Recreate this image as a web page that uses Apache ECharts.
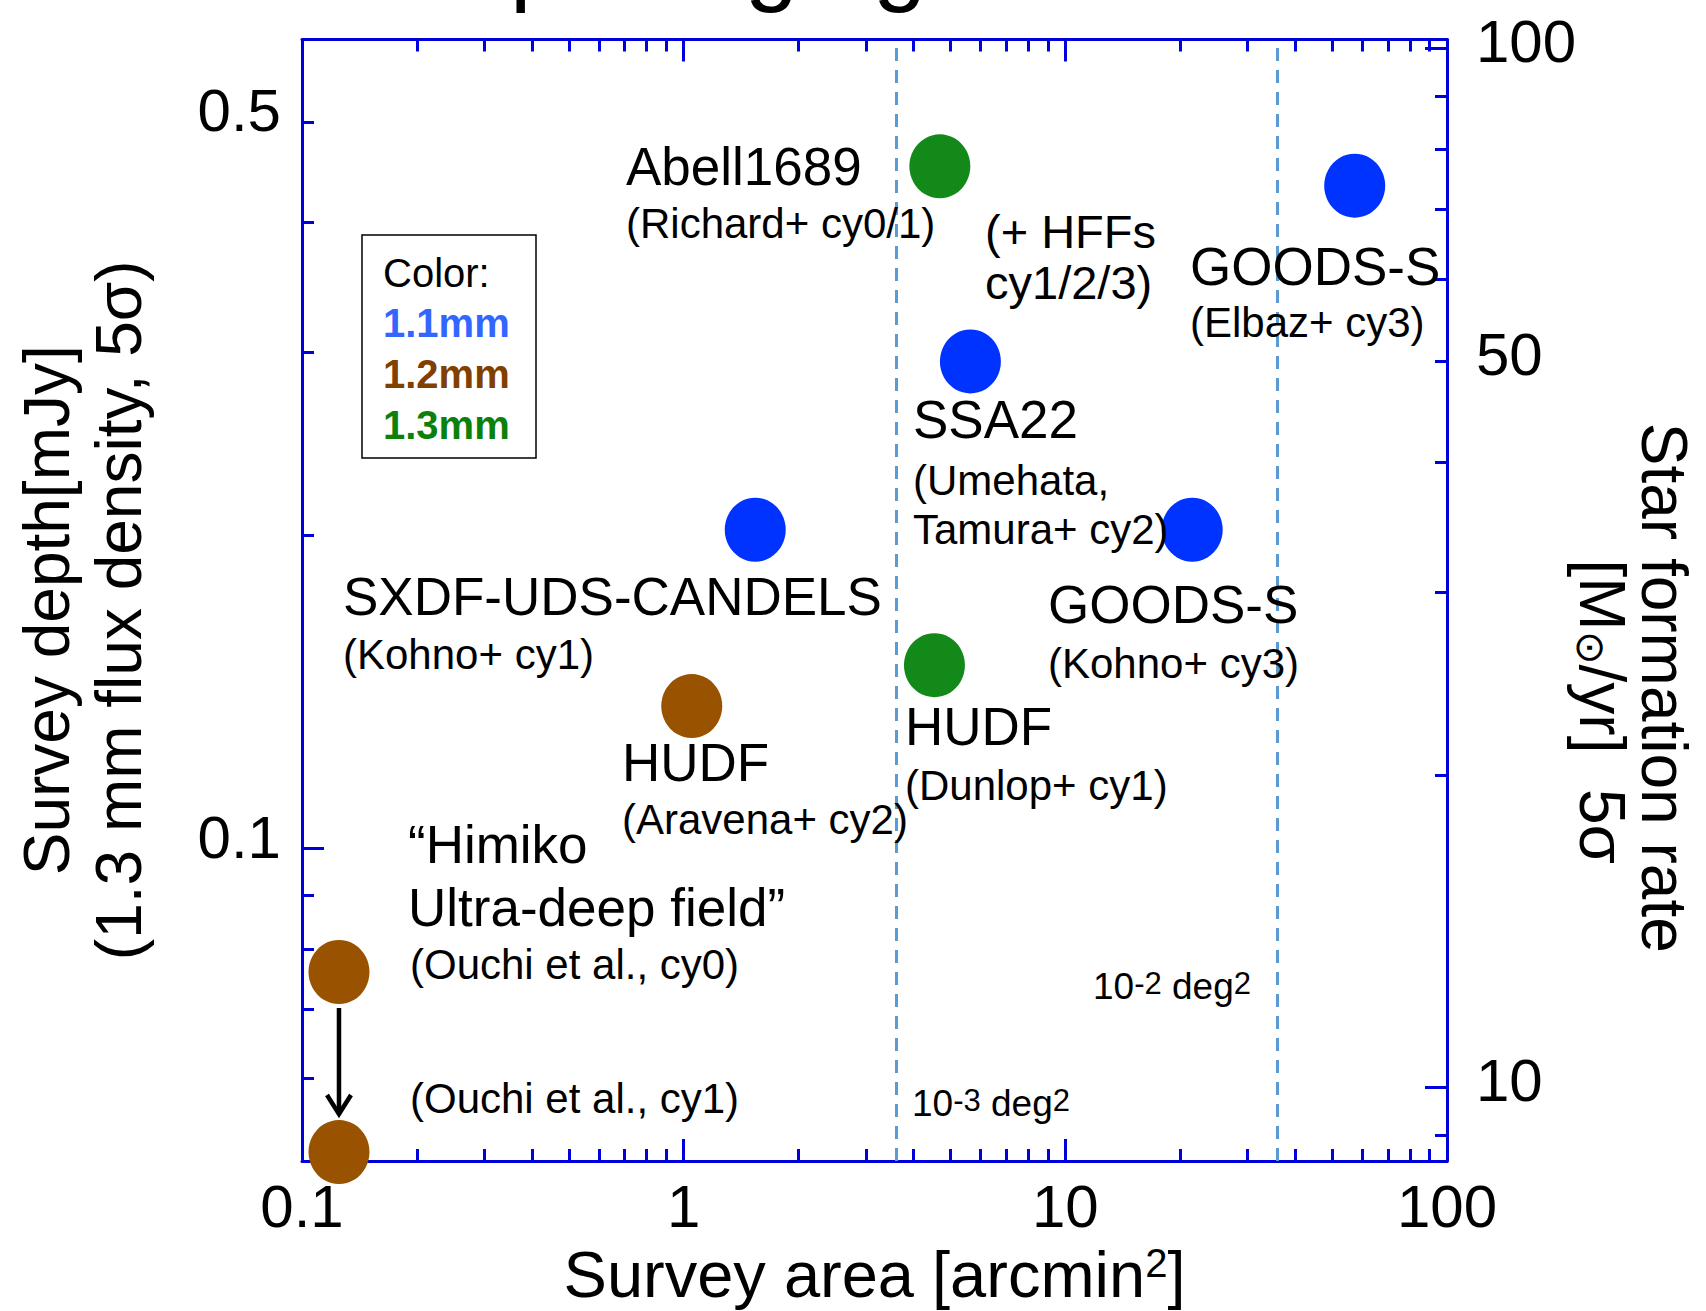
<!DOCTYPE html>
<html>
<head>
<meta charset="utf-8">
<script src="https://cdn.jsdelivr.net/npm/echarts@6/dist/echarts.min.js"></script>
<style>
  html, body { margin: 0; padding: 0; background: #ffffff; }
  #chart { width: 1706px; height: 1311px; }
</style>
</head>
<body>
<div id="chart"></div>
<script>
// ---- Survey data ----
const fieldNames  = ['Abell1689', 'GOODS-S (Elbaz)', 'SSA22', 'SXDF-UDS-CANDELS', 'GOODS-S (Kohno)', 'HUDF (Dunlop)', 'HUDF (Aravena)', 'Himiko cy0', 'Himiko cy1'];
const surveyArea  = [4.69, 57.3, 5.64, 1.54, 21.5, 4.54, 1.05, 0.125, 0.125];    // arcmin^2
const surveyDepth = [0.453, 0.434, 0.294, 0.2025, 0.2025, 0.150, 0.137, 0.076, 0.051]; // mJy, 5 sigma
const fieldBands  = ['1.3mm', '1.1mm', '1.1mm', '1.1mm', '1.1mm', '1.3mm', '1.2mm', '1.2mm', '1.2mm'];
const bandNames   = ['1.1mm', '1.2mm', '1.3mm'];

// Himiko cy0 -> cy1 improvement arrow (indices into the arrays above)
const arrowFrom = 7;
const arrowTo   = 8;

// Reference areas: 1e-3 deg^2 and 1e-2 deg^2 expressed in arcmin^2
const degSquareAreas = [3.6, 36];

// ---- Axes ----
const areaRange        = [0.1, 100];
const areaTickLabels   = [0.1, 1, 10, 100];
const areaMajorTicks   = [0.1, 1, 10, 100];
const areaMinorTicks   = [0.2, 0.3, 0.4, 0.5, 0.6, 0.7, 0.8, 0.9, 2, 3, 4, 5, 6, 7, 8, 9, 20, 30, 40, 50, 60, 70, 80, 90];
const depthRange       = [0.05, 0.6];
const depthTickLabels  = [0.1, 0.5];
const depthMajorTicks  = [0.1];
const depthMinorTicks  = [0.06, 0.07, 0.08, 0.09, 0.2, 0.3, 0.4, 0.5];
const sfrPerMJy        = 170;   // M_sun/yr per mJy
const sfrTickLabels    = [10, 50, 100];
const sfrMajorTicks    = [10, 100];
const sfrMinorTicks    = [9, 20, 30, 40, 50, 60, 70, 80, 90];

// ---- Styles ----
const FONT = '"Liberation Sans", Arial, Helvetica, sans-serif';
const AXIS_BLUE = '#0000dd';
const markerColors = { '1.1mm': '#0033ff', '1.2mm': '#985200', '1.3mm': '#13891a' };
const keyColors    = { '1.1mm': '#3366ff', '1.2mm': '#7f4000', '1.3mm': '#0b800b' };
const MID = 0.3465; // baseline -> em-box middle, in em

const chart = echarts.init(document.getElementById('chart'), null, { renderer: 'svg', width: 1706, height: 1311 });

const axisLine = { show: true, onZero: false, lineStyle: { color: AXIS_BLUE, width: 3 } };
const noLine = { show: false, onZero: false };
function ticks(values, len) {
  return { show: true, inside: true, length: len, customValues: values, lineStyle: { color: AXIS_BLUE, width: 3 } };
}
const noLabel = { show: false };
const noSplit = { show: false };

function xAxisDef(position, tickValues, len, withLine, extra) {
  return Object.assign({
    type: 'log', logBase: 10, min: areaRange[0], max: areaRange[1], position: position,
    axisLine: withLine ? axisLine : noLine, axisTick: ticks(tickValues, len),
    axisLabel: noLabel, splitLine: noSplit, minorTick: { show: false }
  }, extra || {});
}
function yAxisDef(position, range, tickValues, len, withLine, extra) {
  return Object.assign({
    type: 'log', logBase: 10, min: range[0], max: range[1], position: position,
    axisLine: withLine ? axisLine : noLine, axisTick: ticks(tickValues, len),
    axisLabel: noLabel, splitLine: noSplit, minorTick: { show: false }
  }, extra || {});
}

const tickLabelStyle = { show: true, fontSize: 60, color: '#000', fontFamily: FONT, formatter: v => String(+(+v).toPrecision(6)) };
const sfrRange = [depthRange[0] * sfrPerMJy, depthRange[1] * sfrPerMJy];

// free text placed by its alphabetic baseline
function label(text, x, baseline, size, extra) {
  return Object.assign({
    type: 'text', x: x, y: baseline - MID * size, silent: true, z: 10,
    style: { text: text, fontSize: size, fontFamily: FONT, fill: '#000', align: 'left', verticalAlign: 'middle' }
  }, extra || {});
}

const BIG = 53, SMALL = 42, MIDSIZE = 47;
const annotations = [
  label('Abell1689', 626, 185, BIG),
  label('(Richard+ cy0/1)', 626, 238, SMALL),
  label('(+ HFFs', 985, 248, MIDSIZE),
  label('cy1/2/3)', 985, 299, MIDSIZE),
  label('GOODS-S', 1190, 285, BIG),
  label('(Elbaz+ cy3)', 1190, 337, SMALL),
  label('SSA22', 913, 438, BIG),
  label('(Umehata,', 913, 495, SMALL),
  label('Tamura+ cy2)', 913, 544, SMALL),
  label('SXDF-UDS-CANDELS', 343, 615, BIG),
  label('(Kohno+ cy1)', 343, 669, SMALL),
  label('GOODS-S', 1048, 623, BIG),
  label('(Kohno+ cy3)', 1048, 678, SMALL),
  label('HUDF', 905, 745, BIG),
  label('(Dunlop+ cy1)', 905, 800, SMALL),
  label('HUDF', 622, 781, BIG),
  label('(Aravena+ cy2)', 622, 834, SMALL),
  label('\u201CHimiko', 408, 863, BIG),
  label('Ultra-deep field\u201D', 408, 926, BIG),
  label('(Ouchi et al., cy0)', 410, 979, SMALL),
  label('(Ouchi et al., cy1)', 410, 1113, SMALL)
];

function degLabel(power, x, baseline) {
  return {
    type: 'text', x: x, y: baseline - MID * 36 - 8, silent: true, z: 10,
    style: {
      text: '{a|10}{b|' + power + '}{a| deg}{b|2}', fontFamily: FONT, fill: '#000', align: 'left', verticalAlign: 'middle',
      rich: {
        a: { fontSize: 37, fontFamily: FONT, lineHeight: 37, verticalAlign: 'bottom', padding: [16, 0, 0, 0] },
        b: { fontSize: 31, fontFamily: FONT, lineHeight: 31, verticalAlign: 'top' }
      }
    }
  };
}

// colour key box
const keyLeft = 383;
const colorKey = {
  type: 'group', silent: true, z: 10,
  children: [
    { type: 'rect', shape: { x: 362, y: 235, width: 174, height: 223 }, style: { fill: '#fff', stroke: '#000', lineWidth: 1.5 } },
    label('Color:', keyLeft, 287, 40)
  ].concat(bandNames.map((b, i) => label(b, keyLeft, 337 + i * 50.7, 40, {
    style: { text: b, fontSize: 40, fontWeight: 'bold', fontFamily: FONT, fill: keyColors[b], align: 'left', verticalAlign: 'middle' }
  })))
};

const option = {
  backgroundColor: '#ffffff',
  animation: false,
  grid: { left: 302, top: 39.5, right: 259, bottom: 150, containLabel: false, outerBoundsMode: 'none' },
  xAxis: [
    xAxisDef('bottom', areaMajorTicks, 22, true, {
      axisLabel: Object.assign({}, tickLabelStyle, { customValues: areaTickLabels, margin: 15 }),
      name: '{a|Survey area [arcmin}{b|2}{a|]}',
      nameLocation: 'middle', nameGap: 82, nameMoveOverlap: false,
      nameTextStyle: {
        fontFamily: FONT, color: '#000',
        rich: {
          a: { fontSize: 65, fontFamily: FONT, color: '#000', lineHeight: 64, verticalAlign: 'bottom', padding: [16, 0, 0, 0] },
          b: { fontSize: 40, fontFamily: FONT, color: '#000', lineHeight: 40, verticalAlign: 'top' }
        }
      }
    }),
    xAxisDef('bottom', areaMinorTicks, 12, false),
    xAxisDef('top', areaMajorTicks, 22, true),
    xAxisDef('top', areaMinorTicks, 12, false)
  ],
  yAxis: [
    yAxisDef('left', depthRange, depthMajorTicks, 22, true, {
      axisLabel: Object.assign({}, tickLabelStyle, { customValues: depthTickLabels, margin: 21, verticalAlign: 'bottom', lineHeight: 22 }),
      name: 'Survey depth[mJy]\n(1.3 mm flux density, 5\u03C3)',
      nameLocation: 'middle', nameRotate: 90, nameGap: 147, nameMoveOverlap: false,
      nameTextStyle: { fontSize: 64, lineHeight: 72, fontFamily: FONT, color: '#000', padding: [0, 20, 0, 0] }
    }),
    yAxisDef('left', depthRange, depthMinorTicks, 12, false),
    yAxisDef('right', sfrRange, sfrMajorTicks, 22, true, {
      axisLabel: Object.assign({}, tickLabelStyle, { customValues: sfrTickLabels, margin: 29, verticalAlign: 'bottom', lineHeight: 14 }),
      name: '{a|Star formation rate}\n{g| }{a|[M}{s|\u2299}{a|/yr]  5\u03C3}',
      nameLocation: 'middle', nameRotate: -90, nameGap: 124, nameMoveOverlap: false,
      nameTextStyle: {
        fontFamily: FONT, color: '#000', padding: [0, 0, 0, 175],
        rich: {
          a: { fontSize: 64, fontFamily: FONT, color: '#000', lineHeight: 62 },
          g: { fontSize: 64, fontFamily: FONT, color: '#000', lineHeight: 62, width: 48 },
          s: { fontSize: 40, fontFamily: FONT, color: '#000', lineHeight: 62, verticalAlign: 'bottom' }
        }
      }
    }),
    yAxisDef('right', sfrRange, sfrMinorTicks, 12, false)
  ],
  graphic: [
    // figure heading, running off the top edge
    label('Deep imaging', 334, -7.5, 96)
  ].concat(annotations, [degLabel('-2', 1093, 1007), degLabel('-3', 912, 1124), colorKey]),
  series: [
    {
      name: 'ALMA surveys',
      type: 'scatter', xAxisIndex: 0, yAxisIndex: 0,
      symbol: 'circle', symbolSize: [61, 64], clip: false, z: 5,
      data: surveyArea.map((a, i) => ({
        name: fieldNames[i], value: [a, surveyDepth[i]],
        itemStyle: { color: markerColors[fieldBands[i]], opacity: 1 }
      })),
      itemStyle: { opacity: 1 },
      emphasis: { disabled: true },
      markLine: {
        silent: true, symbol: ['none', 'none'], animation: false,
        label: { show: false },
        lineStyle: { color: '#5b9bd5', width: 3, type: [13, 9], opacity: 1 },
        emphasis: { disabled: true },
        data: degSquareAreas.map(v => ({ xAxis: v }))
      }
    },
    {
      name: 'Himiko depth improvement',
      type: 'custom', xAxisIndex: 0, yAxisIndex: 0, clip: false, z: 4, silent: true,
      data: [[surveyArea[arrowFrom], surveyDepth[arrowFrom], surveyArea[arrowTo], surveyDepth[arrowTo]]],
      encode: { x: [0, 2], y: [1, 3] },
      renderItem: function (params, api) {
        const p0 = api.coord([api.value(0), api.value(1)]);
        const p1 = api.coord([api.value(2), api.value(3)]);
        const x = p0[0];
        const yStart = p0[1] + 36;
        const yEnd = p1[1] - 38;
        return {
          type: 'group',
          children: [
            { type: 'line', shape: { x1: x, y1: yStart, x2: x, y2: yEnd }, style: { stroke: '#000', lineWidth: 4.5 } },
            { type: 'polyline', shape: { points: [[x - 12, yEnd - 19], [x, yEnd], [x + 12, yEnd - 19]] }, style: { stroke: '#000', lineWidth: 4.5, fill: null } }
          ]
        };
      }
    }
  ]
};

chart.setOption(option);
</script>
</body>
</html>
